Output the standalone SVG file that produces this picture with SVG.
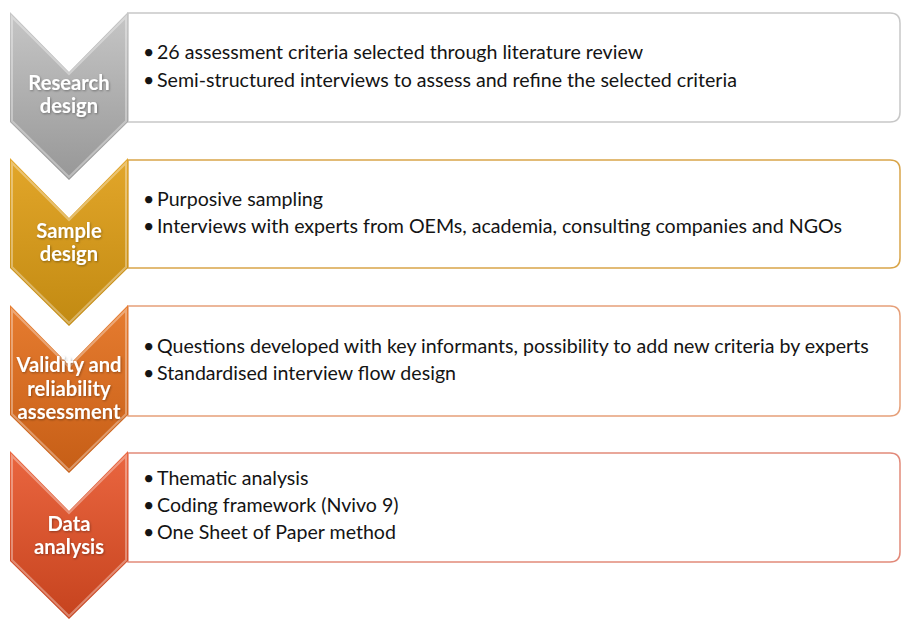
<svg xmlns="http://www.w3.org/2000/svg" width="901" height="621" viewBox="0 0 901 621">
<defs>
<linearGradient id="g1" x1="0" y1="0" x2="0" y2="1"><stop offset="0" stop-color="#c6c6c6"/><stop offset="1" stop-color="#979797"/></linearGradient>
<linearGradient id="g2" x1="0" y1="0" x2="0" y2="1"><stop offset="0" stop-color="#e2a62a"/><stop offset="1" stop-color="#c28a12"/></linearGradient>
<linearGradient id="g3" x1="0" y1="0" x2="0" y2="1"><stop offset="0" stop-color="#e67c30"/><stop offset="1" stop-color="#c65e16"/></linearGradient>
<linearGradient id="g4" x1="0" y1="0" x2="0" y2="1"><stop offset="0" stop-color="#ea6640"/><stop offset="1" stop-color="#c6431e"/></linearGradient>
<filter id="sh" x="-10%" y="-10%" width="120%" height="130%"><feDropShadow dx="0.8" dy="1" stdDeviation="0.8" flood-color="#000000" flood-opacity="0.35"/></filter>
<path id="chev" d="M10,0 L69,60 L128,0 L128,110 L69,168 L10,110 Z"/>
</defs>
<style>
.box{fill:#ffffff;stroke-width:1.5}
.lbl{font-family:"Lato","Liberation Sans",sans-serif;font-weight:bold;font-size:20.2px;fill:#ffffff;text-anchor:middle;filter:url(#sh)}
.txt{font-family:"Lato","Liberation Sans",sans-serif;font-size:19.6px;fill:#141414}
.bev{fill:none;stroke:#ffffff;stroke-opacity:0.35;stroke-width:2}
</style>
<rect width="901" height="621" fill="#ffffff"/>

<g id="node1">
<path class="box" stroke="#c8c8c8" d="M128,13 L890,13 Q900,13 900,23 L900,112 Q900,122 890,122 L128,122 Z"/>
<use href="#chev" y="12" fill="url(#g1)"/>
<path class="bev" d="M12,17 L69,74 L126,17 L126,121 L69,177 L12,121 Z"/>
<text class="lbl" x="69" y="90">Research</text>
<text class="lbl" x="69" y="113">design</text>
<text class="txt" y="59"><tspan x="143">•</tspan><tspan x="157">26 assessment criteria selected through literature review</tspan></text>
<text class="txt" y="87"><tspan x="143">•</tspan><tspan x="157">Semi-structured interviews to assess and refine the selected criteria</tspan></text>
</g>

<g id="node2">
<path class="box" stroke="#d9a54a" d="M128,160 L890,160 Q900,160 900,170 L900,258 Q900,268 890,268 L128,268 Z"/>
<use href="#chev" y="158" fill="url(#g2)"/>
<path class="bev" d="M12,163 L69,220 L126,163 L126,267 L69,323 L12,267 Z"/>
<text class="lbl" x="69" y="238">Sample</text>
<text class="lbl" x="69" y="261">design</text>
<text class="txt" y="206"><tspan x="143">•</tspan><tspan x="157">Purposive sampling</tspan></text>
<text class="txt" y="233"><tspan x="143">•</tspan><tspan x="157">Interviews with experts from OEMs, academia, consulting companies and NGOs</tspan></text>
</g>

<g id="node3">
<path class="box" stroke="#e6a07a" d="M128,306 L890,306 Q900,306 900,316 L900,406 Q900,416 890,416 L128,416 Z"/>
<use href="#chev" y="305" fill="url(#g3)"/>
<path class="bev" d="M12,310 L69,367 L126,310 L126,414 L69,470 L12,414 Z"/>
<text class="lbl" x="69" y="372">Validity and</text>
<text class="lbl" x="69" y="396">reliability</text>
<text class="lbl" x="69" y="419">assessment</text>
<text class="txt" y="353"><tspan x="143">•</tspan><tspan x="157">Questions developed with key informants, possibility to add new criteria by experts</tspan></text>
<text class="txt" y="380"><tspan x="143">•</tspan><tspan x="157">Standardised interview flow design</tspan></text>
</g>

<g id="node4">
<path class="box" stroke="#e28a7a" d="M128,453 L890,453 Q900,453 900,463 L900,552 Q900,562 890,562 L128,562 Z"/>
<use href="#chev" y="451" fill="url(#g4)"/>
<path class="bev" d="M12,456 L69,513 L126,456 L126,560 L69,616 L12,560 Z"/>
<text class="lbl" x="69" y="531">Data</text>
<text class="lbl" x="69" y="554">analysis</text>
<text class="txt" y="485"><tspan x="143">•</tspan><tspan x="157">Thematic analysis</tspan></text>
<text class="txt" y="512"><tspan x="143">•</tspan><tspan x="157">Coding framework (Nvivo 9)</tspan></text>
<text class="txt" y="539"><tspan x="143">•</tspan><tspan x="157">One Sheet of Paper method</tspan></text>
</g>

<g id="connectors"></g>
</svg>
